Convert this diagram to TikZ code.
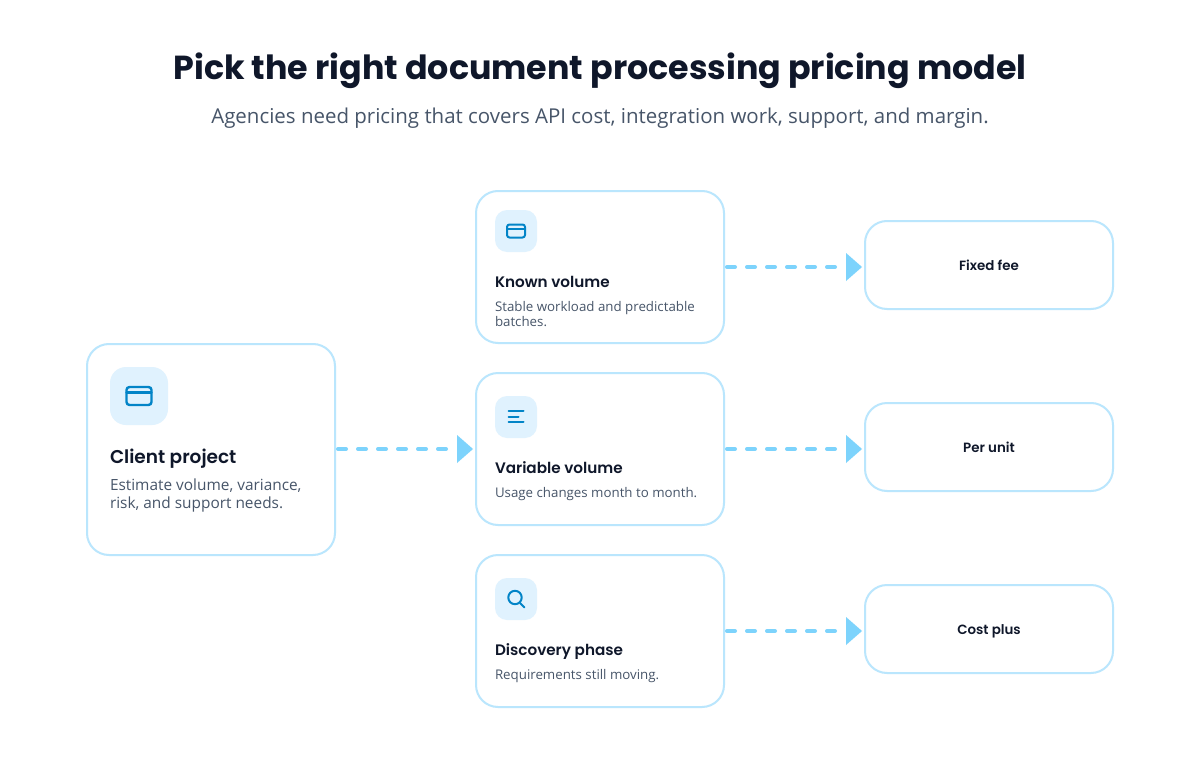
\documentclass[tikz,border=0pt]{standalone}
\usepackage{fontspec}
\usetikzlibrary{arrows.meta}
\setmainfont{Lato}
\newfontfamily\hd{Poppins}
\newfontfamily\hsb[UprightFont=* SemiBold]{Poppins}
\newfontfamily\bodyf{Open Sans}
\definecolor{edge}{HTML}{BAE6FD}
\definecolor{flow}{HTML}{7DD3FC}
\definecolor{tile}{HTML}{E0F2FE}
\definecolor{ico}{HTML}{0284C7}
\definecolor{ink}{HTML}{0F172A}
\definecolor{sub}{HTML}{475569}
\tikzset{
  x=1pt,y=-1pt,
  card/.style={draw=edge,line width=2pt,fill=white,rounded corners=22pt,minimum width=248pt,outer sep=0pt,inner sep=0pt},
  bigtile/.style={fill=tile,rounded corners=16pt,minimum size=58pt,outer sep=0pt,inner sep=0pt},
  smalltile/.style={fill=tile,rounded corners=12pt,minimum size=42pt,outer sep=0pt,inner sep=0pt},
  glyph/.style={draw=ico,line width=2pt,line cap=round,line join=round},
  txt/.style={anchor=base west,inner sep=0pt,outer sep=0pt},
  head/.style={txt,text=ink,font=\hsb\fontsize{18.5}{22}\selectfont},
  headsm/.style={txt,text=ink,font=\hsb\fontsize{15.2}{18}\selectfont},
  desc/.style={txt,text=sub,font=\bodyf\fontsize{15.4}{18}\selectfont,align=left},
  descsm/.style={txt,text=sub,font=\bodyf\fontsize{13.3}{15}\selectfont,align=left},
  lab/.style={anchor=base,text=ink,font=\hsb\fontsize{13.4}{16}\selectfont,inner sep=0pt},
  link/.style={draw=flow,line width=4pt,line cap=round,dash pattern=on 8pt off 12pt,shorten <=3pt,shorten >=3pt,
    -{Triangle[length=16pt,width=28pt,line width=0pt,round=false]}},
}
\begin{document}
\begin{tikzpicture}
\useasboundingbox (0,0) rectangle (1200,760);
\fill[white] (0,0) rectangle (1200,760);
\node[text=ink,font=\hd\bfseries\fontsize{33.3}{40}\selectfont,inner sep=0pt,anchor=base] (title) at (600,80) {Pick the right document processing pricing model};
\node[text=sub,font=\bodyf\fontsize{20.47}{26}\selectfont,inner sep=0pt,anchor=base] (subtitle) at (600,124) {Agencies need pricing that covers API cost, integration work, support, and margin.};

\node[card,minimum height=211pt] (client) at (211,449.5) {};
\node[card,minimum height=152pt] (known) at (600,267) {};
\node[card,minimum height=152pt] (variable) at (600,449) {};
\node[card,minimum height=152pt] (discovery) at (600,631) {};
\node[card,minimum height=88pt] (fixed) at (989,265) {};
\node[card,minimum height=88pt] (perunit) at (989,447) {};
\node[card,minimum height=88pt] (costplus) at (989,629) {};

\node[lab] (fixedlab) at (989,270) {Fixed fee};
\node[lab] (perunitlab) at (989,452) {Per unit};
\node[lab] (costpluslab) at (989,634) {Cost plus};

\node[bigtile] (t0) at (139,396) {};
\node[smalltile] (t1) at (516,231) {};
\node[smalltile] (t2) at (516,417) {};
\node[smalltile] (t3) at (516,599) {};

% icons
\draw[glyph,line width=2.4pt,rounded corners=3pt] (126.5,387) rectangle (151.5,405);
\draw[glyph,line width=2.4pt] (126.5,392.5) -- (151.5,392.5);
\draw[glyph,rounded corners=2.5pt] (507,224.5) rectangle (525,237.5);
\draw[glyph] (507,228.5) -- (525,228.5);
\draw[glyph] (508.5,411) -- (523.5,411) (508.5,417) -- (518.5,417) (508.5,422) -- (523.5,422);
\draw[glyph] (515,597.5) circle (6.7pt);
\draw[glyph] (520,603) -- (524.5,607.5);

\node[head] (h0) at (110,463) {Client project};
\node[desc] (d0a) at (110,490) {Estimate volume, variance,};
\node[desc] (d0b) at (110,508) {risk, and support needs.};
\node[headsm] (h1) at (495,287) {Known volume};
\node[descsm] (d1a) at (495,311) {Stable workload and predictable};
\node[descsm] (d1b) at (495,326) {batches.};
\node[headsm] (h2) at (495,473) {Variable volume};
\node[descsm] (d2) at (495,497) {Usage changes month to month.};
\node[headsm] (h3) at (495,655) {Discovery phase};
\node[descsm] (d3) at (495,679) {Requirements still moving.};

\draw[link] (client.east |- variable.west) -- (variable.west);
\draw[link] (known.east) -- (known.east -| fixed.west);
\draw[link] (variable.east) -- (variable.east -| perunit.west);
\draw[link] (discovery.east) -- (discovery.east -| costplus.west);
\end{tikzpicture}
\end{document}
